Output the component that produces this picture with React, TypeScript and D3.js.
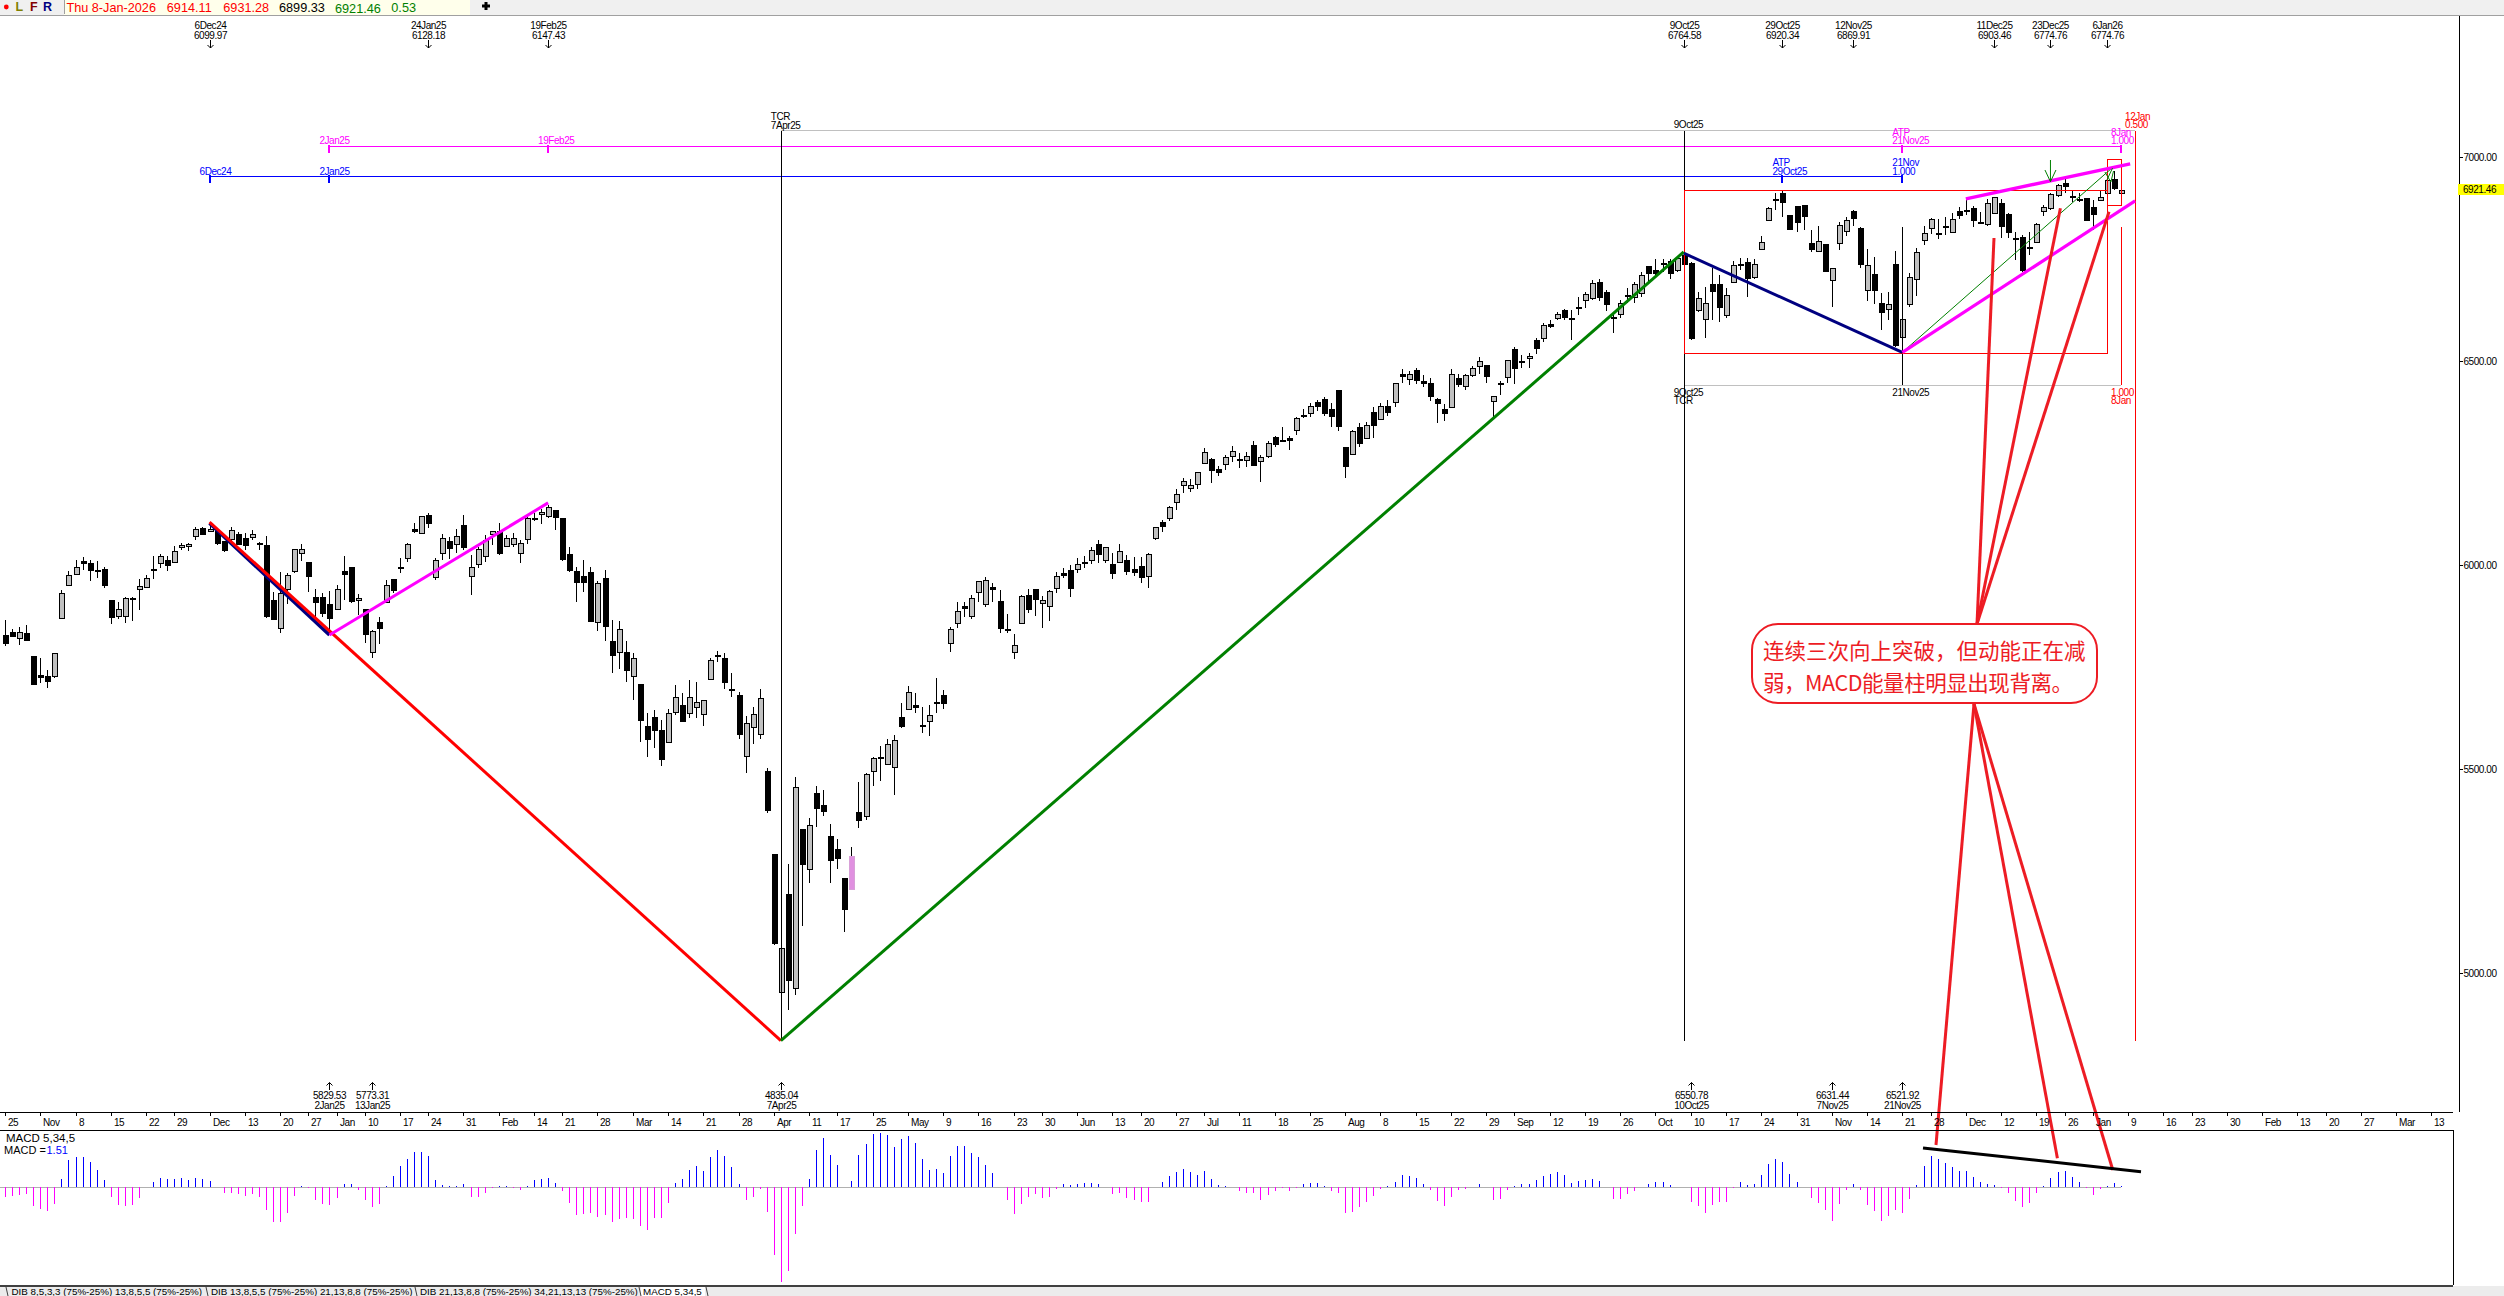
import React, { useEffect, useRef } from "react";
import * as d3 from "d3";

type Bar = [number, number, number, number]; // open high low close

// daily bars, one list per stretch
const barsOct24: Bar[] = [[5829,5866,5802,5810],[5836,5845,5825,5827],[5822,5849,5804,5836],[5833,5854,5815,5817],[5778,5778,5706,5709],[5730,5774,5711,5726],[5729,5743,5700,5717],[5727,5784,5724,5784],[5869,5939,5869,5931],[5950,5986,5950,5975],[5979,6014,5979,5997],[6010,6020,5988,6004],[6005,6013,5961,5987],[5988,6010,5970,5987],[5990,5995,5945,5952],[5915,5915,5857,5874],[5876,5910,5868,5894],[5875,5923,5859,5919],[5920,5923,5863,5919],[5943,5966,5890,5950],[5948,5976,5948,5970],[5992,6023,5966,5989],[6004,6027,5994,6022],[6014,6023,5986,6001],[6006,6047,6006,6034],[6043,6054,6037,6049],[6046,6055,6035,6051],[6072,6093,6062,6088],[6091,6093,6075,6077]];
const barsDec24: Bar[] = [[6085,6100,6081,6090],[6085,6090,6050,6055],[6060,6060,6033,6037],[6063,6093,6052,6086],[6077,6082,6050,6053],[6068,6080,6037,6052],[6068,6086,6062,6076],[6055,6058,6037,6054],[6049,6071,5872,5876],[5915,5934,5868,5868],[5845,5983,5835,5932],[5942,5980,5905,5976],[5986,6041,5982,6041],[6028,6052,6010,6039],[6008,6008,5934,5974],[5922,5942,5874,5910],[5922,5931,5874,5882]];
const barsJan25: Bar[] = [[5905,5936,5830,5871],[5894,5952,5891,5943],[5986,6023,5915,5979],[5996,5996,5908,5912],[5913,5930,5878,5919],[5892,5892,5809,5830],[5787,5841,5773,5838],[5861,5874,5807,5846],[5909,5964,5907,5951],[5966,5966,5931,5940],[5997,6017,5982,5996],[6016,6054,6008,6051],[6089,6103,6078,6084],[6079,6122,6077,6120],[6123,6128,6092,6104],[5972,6018,5964,6014],[6031,6077,6013,6068],[6059,6070,6015,6043],[6053,6090,6031,6073]];
const barsFeb25: Bar[] = [[6098,6123,6037,6043],[5972,6025,5927,5995],[6002,6046,5994,6039],[6023,6074,6009,6063],[6076,6084,6050,6084],[6083,6103,6025,6028],[6049,6074,6047,6068],[6053,6078,6046,6068],[6029,6063,6006,6054],[6063,6119,6052,6115],[6117,6127,6108,6116],[6125,6139,6101,6130],[6122,6147,6115,6144],[6135,6135,6086,6119],[6116,6116,6011,6016],[6027,6045,5983,5987],[5985,5995,5911,5957],[5974,6013,5934,5960],[5983,5995,5861,5863]];
const barsMar25: Bar[] = [[5860,5961,5839,5956],[5970,5988,5815,5852],[5814,5867,5737,5780],[5787,5863,5746,5843],[5787,5814,5715,5742],[5729,5784,5671,5772],[5708,5708,5568,5619],[5606,5637,5531,5574],[5627,5645,5551,5595],[5596,5621,5509,5526],[5568,5647,5568,5639],[5639,5706,5633,5676],[5657,5686,5615,5619],[5637,5718,5626,5676],[5652,5714,5626,5664],[5635,5671,5607,5669],[5723,5773,5722,5769],[5779,5790,5764,5778],[5774,5784,5697,5715],[5698,5735,5676,5697],[5681,5689,5575,5585],[5531,5630,5492,5613],[5602,5652,5562,5635],[5585,5697,5575,5674]];
const barsApr25: Bar[] = [[5496,5504,5394,5400],[5292,5292,5070,5074],[4954,5247,4835,5062],[5194,5267,4910,4983],[4965,5481,4948,5457],[5353,5353,5115,5268],[5256,5381,5221,5363],[5442,5459,5358,5406],[5412,5450,5386,5397],[5336,5367,5221,5276],[5305,5328,5256,5283],[5233,5233,5102,5158],[5208,5310,5208,5288],[5396,5470,5356,5376],[5386,5492,5376,5488],[5494,5529,5460,5527],[5531,5557,5471,5530],[5513,5574,5510,5563],[5504,5584,5437,5571]];
const barsMay25: Bar[] = [[5628,5662,5601,5606],[5648,5704,5647,5689],[5657,5686,5637,5653],[5608,5652,5590,5607],[5617,5657,5581,5632],[5666,5724,5639,5665],[5682,5694,5648,5662],[5810,5848,5787,5845],[5857,5910,5847,5887],[5900,5910,5874,5896],[5874,5926,5869,5919],[5933,5961,5911,5961],[5906,5972,5898,5965],[5947,5956,5911,5942],[5912,5939,5835,5847],[5843,5880,5833,5842],[5787,5831,5771,5804],[5858,5926,5858,5924],[5926,5941,5884,5891],[5941,5943,5876,5916]];
const barsJun25: Bar[] = [[5906,5925,5847,5914],[5899,5939,5864,5936],[5943,5983,5933,5973],[5980,5993,5970,5974],[5988,6001,5923,5943],[5990,6018,5982,6002],[6007,6023,5994,6006],[6014,6046,6003,6038],[6051,6062,6006,6026],[6014,6046,6006,6046],[6002,6029,5967,5979],[6007,6052,6006,6034],[6014,6025,5977,5987],[5991,6021,5975,5984],[5998,6021,5956,5970],[5972,6029,5945,6027],[6065,6095,6063,6093],[6105,6111,6081,6095],[6114,6145,6109,6142],[6154,6188,6135,6174],[6195,6213,6178,6206]];
const barsJul25: Bar[] = [[6191,6211,6180,6198],[6198,6229,6188,6228],[6250,6287,6248,6278],[6260,6262,6202,6232],[6235,6243,6220,6227],[6247,6270,6233,6265],[6269,6292,6253,6281],[6260,6276,6238,6259],[6259,6277,6242,6269],[6296,6305,6244,6247],[6256,6270,6205,6265],[6266,6305,6264,6299],[6314,6317,6289,6297],[6306,6338,6304,6305],[6311,6317,6282,6307],[6331,6363,6319,6360],[6369,6382,6360,6367],[6372,6397,6364,6390],[6400,6405,6379,6390],[6408,6412,6366,6374],[6382,6397,6340,6364],[6430,6430,6330,6342]];
const barsAug25: Bar[] = [[6289,6289,6215,6242],[6274,6332,6273,6330],[6338,6348,6291,6300],[6314,6352,6311,6345],[6375,6389,6313,6342],[6358,6397,6356,6390],[6390,6405,6366,6376],[6399,6448,6389,6446],[6469,6480,6446,6464],[6456,6477,6442,6468],[6478,6484,6444,6453],[6452,6466,6436,6448],[6446,6459,6403,6413],[6408,6409,6348,6399],[6383,6395,6354,6372],[6387,6481,6385,6468],[6458,6468,6438,6443],[6439,6469,6430,6466],[6466,6488,6461,6483],[6488,6510,6469,6501],[6490,6491,6448,6462]];
const barsSep25: Bar[] = [[6404,6416,6360,6416],[6448,6452,6417,6447],[6460,6502,6448,6502],[6530,6534,6444,6484],[6500,6515,6483,6497],[6506,6521,6483,6512],[6552,6556,6518,6533],[6555,6593,6548,6588],[6591,6601,6582,6587],[6604,6621,6601,6615],[6626,6627,6601,6609],[6605,6626,6552,6602],[6632,6658,6613,6629],[6649,6671,6630,6664],[6656,6699,6650,6693],[6694,6702,6649,6658],[6669,6675,6624,6639],[6608,6615,6570,6607],[6617,6650,6605,6644],[6662,6679,6644,6661]];
const barsOct25: Bar[] = [[6658,6694,6644,6689],[6667,6718,6658,6711],[6733,6733,6693,6717],[6723,6751,6707,6716],[6740,6750,6720,6737],[6747,6750,6702,6717],[6725,6756,6720,6754],[6760,6765,6736,6737],[6740,6744,6551,6555],[6624,6671,6622,6654],[6605,6683,6558,6644],[6689,6729,6601,6673],[6689,6711,6597,6632],[6615,6679,6607,6663],[6693,6746,6693,6735],[6738,6752,6724,6737],[6743,6752,6658,6703],[6706,6750,6702,6738],[6774,6807,6774,6792],[6847,6877,6845,6876],[6897,6912,6871,6895],[6912,6920,6854,6891],[6859,6859,6823,6825]];
const barsNov25: Bar[] = [[6881,6881,6816,6842],[6882,6882,6822,6854],[6789,6822,6769,6774],[6771,6832,6769,6796],[6787,6787,6720,6722],[6698,6728,6634,6728],[6788,6841,6774,6833],[6818,6854,6807,6846],[6868,6870,6832,6852],[6827,6829,6728,6739],[6674,6775,6648,6735],[6714,6755,6641,6676],[6642,6668,6577,6619],[6629,6670,6601,6641],[6738,6770,6536,6540],[6558,6695,6522,6603],[6640,6716,6634,6706],[6701,6777,6660,6767],[6796,6832,6785,6814]];
const barsDec25: Bar[] = [[6826,6851,6812,6848],[6814,6848,6800,6813],[6831,6854,6810,6830],[6818,6863,6814,6850],[6868,6879,6848,6859],[6871,6898,6859,6870],[6876,6881,6830,6847],[6841,6867,6840,6840],[6836,6899,6832,6887],[6863,6903,6861,6902],[6887,6899,6803,6830],[6861,6863,6803,6818],[6803,6818,6748,6802],[6804,6810,6720,6722],[6780,6816,6760,6777],[6793,6838,6791,6836],[6867,6883,6856,6878],[6874,6912,6872,6909],[6906,6934,6903,6931],[6937,6948,6912,6930],[6906,6920,6891,6905],[6899,6912,6891,6898],[6900,6900,6846,6847]];
const barsJan26: Bar[] = [[6877,6895,6823,6859],[6894,6920,6892,6902],[6911,6957,6907,6944],[6946,6966,6920,6923],[6914,6931,6899,6921]];
const bars = [...barsOct24,...barsDec24,...barsJan25,...barsFeb25,...barsMar25,...barsApr25,...barsMay25,...barsJun25,...barsJul25,...barsAug25,...barsSep25,...barsOct25,...barsNov25,...barsDec25,...barsJan26];

const macd2024 = [-14,-12.5,-11,-10,-28,-32.5,-35,-25,12.5,41,46,46,38,26,11,-14,-26.5,-27.5,-26.5,-16,0.5,8.5,14,12.5,12.5,14,11,14,12.5,10,1,-9,-8,-10,-12.5,-10,-14,-34,-51.5,-51.5,-38,-13,1.5,-1,-19,-25,-26];
const macdQ1 = [-15.5,5,5,-3.5,-18.5,-30,-25,1.5,17.5,32.5,42.5,53.5,53.5,47.5,11,4,1.5,2.5,5,-15,-14,-8.5,-1,1.5,2,-1.5,-4,2.5,11.5,13,14,7,-6,-23,-41,-40.5,-39,-45,-41.5,-51.5,-48,-46.5,-47,-57.5,-64,-46.5,-46,-24,6.5,12.5,26,32,25,45,56,47.5,30,5,-19,-14,-2,-36.5];
const macdQ2 = [-101.5,-141.5,-125,-70,-27.5,12.5,56,74,48.5,33.5,0.5,10,48.5,65,80,81.5,78.5,60,72.5,77.5,66.5,42.5,26,27.5,22,47.5,62.5,62.5,51.5,46,34,22,0,-19,-40,-25,-14,-10,-16,-14.5,-2.5,5,3,5.5,6.5,7,5.5,0,-10,-8.5,-16,-19,-22,-22,0.5,8.5,17.5,23.5,27.5,23.5,19];
const macdQ3 = [25,13,4,1.5,1,-5,-9,-8,-19,-11.5,-5,-1.5,-5,-1,5.5,7,6.5,2,-5,-8.5,-38.5,-37.5,-29,-22,-13,-2.5,2.5,8.5,19,17.5,14.5,5.5,-3.5,-20,-28,-14.5,-4,-2.5,1,5,0.5,-19,-17.5,-4.5,1.5,4.5,4.5,11.5,17.5,20.5,23.5,19,7,10,11.5,13,10,0,-17.5,-17.5,-10,-5,0];
const macdQ4 = [5.5,8.5,8.5,4,1,0.5,-22,-28,-38,-26,-22,-22,-1.5,8.5,3.5,5.5,19,35,42.5,38,20,8.5,0.5,-15.5,-23.5,-33.5,-50,-25,-4,4.5,-4,-26,-35,-50,-43.5,-34,-38,-17,3,32,46.5,42.5,36.5,30,25,25,15.5,8,5,3.5,-1.5,-9,-21,-29,-24,-8.5,1.5,14,23.5,24.5,15.5,8.5,-1.5,-11,-3,1.5,6,1.51];
const macdValues = [...macd2024,...macdQ1,...macdQ2,...macdQ3,...macdQ4];

const priceTicks = [7000, 6500, 6000, 5500, 5000];
const weekIdx = [0,5,10,15,20,24,29,34,39,43,47,51,56,60,65,70,75,79,84,89,94,99,104,109,114,118,123,128,133,138,143,147,152,157,161,166,170,175,180,185,190,195,200,205,210,214,219,224,229,234,239,244,249,254,259,264,269,273,278,283,288,292,296,301,306,310,315,320,325,329,334,339,344];
const weekLabels = ["25","Nov","8","15","22","29","Dec","13","20","27","Jan","10","17","24","31","Feb","14","21","28","Mar","14","21","28","Apr","11","17","25","May","9","16","23","30","Jun","13","20","27","Jul","11","18","25","Aug","8","15","22","29","Sep","12","19","26","Oct","10","17","24","31","Nov","14","21","28","Dec","12","19","26","Jan","9","16","23","30","Feb","13","20","27","Mar","13"];

const topIdx = [29, 60, 77, 238, 252, 262, 282, 290, 298];
const topDates = ["6Dec24","24Jan25","19Feb25","9Oct25","29Oct25","12Nov25","11Dec25","23Dec25","6Jan26"];
const topVals = ["6099.97","6128.18","6147.43","6764.58","6920.34","6869.91","6903.46","6774.76","6774.76"];
const lowIdx = [46, 52, 110, 239, 259, 269];
const lowDates = ["2Jan25","13Jan25","7Apr25","10Oct25","7Nov25","21Nov25"];
const lowVals = ["5829.53","5773.31","4835.04","6550.78","6631.44","6521.92"];

const C = { red: "#ff0000", paint: "#ed1c24", blue: "#0000ff", mag: "#ff00ff", navy: "#000080", green: "#008000" };
const FONT = "'Liberation Sans', Arial, sans-serif";

export default function App() {
    const svgRef = useRef<SVGSVGElement>(null);

    useEffect(() => {
        const svg = d3.select(svgRef.current);
        svg.selectAll("*").remove();

        const x = d3.scaleLinear().domain([0, 300]).range([5, 2121]);
        const y = d3.scaleLinear().domain([5000, 7000]).range([973.3, 157.3]);
        const ym = d3.scaleLinear().domain([0, -100]).range([1187.3, 1254]);
        const px = (i: number) => Math.round(x(i)) + 0.5;

        const text = (g: any, tx: number, ty: number, s: string, color = "#000", anchor = "start", size = 10) =>
            g.append("text").attr("x", tx).attr("y", ty).attr("dy", "0.36em").attr("fill", color)
                .attr("text-anchor", anchor).attr("font-size", size).attr("letter-spacing", size == 10 ? "-0.45px" : null).text(s);
        const seg = (g: any, x1: number, y1: number, x2: number, y2: number, color: string, w = 1, crisp = true) =>
            g.append("line").attr("x1", x1).attr("y1", y1).attr("x2", x2).attr("y2", y2).attr("stroke", color)
                .attr("stroke-width", w).attr("shape-rendering", crisp ? "crispEdges" : null);

        const root = svg.append("g").attr("font-family", FONT);

        // candles
        const candle = root.append("g").selectAll("g").data(bars).join("g");
        candle.append("line").attr("x1", (_, i) => px(i)).attr("x2", (_, i) => px(i))
            .attr("y1", (d) => y(d[1])).attr("y2", (d) => y(d[2])).attr("stroke", "#000").attr("shape-rendering", "crispEdges");
        candle.append("rect").attr("x", (_, i) => px(i) - 2.5).attr("width", 5)
            .attr("y", (d) => Math.round(y(Math.max(d[0], d[3]))) + 0.5)
            .attr("height", (d) => Math.max(1, Math.round(Math.abs(y(d[0]) - y(d[3])))))
            .attr("fill", (d, i) => (i == 120 ? "#e090e0" : d[3] < d[0] ? "#000" : "#c0c0c0"))
            .attr("stroke", (_, i) => (i == 120 ? "#d8a0d8" : "#000")).attr("shape-rendering", "crispEdges");

        // grey time span lines
        seg(root, x(110), 130.5, x(302), 130.5, "#c0c0c0");
        seg(root, x(238), 385.5, x(300), 385.5, "#c0c0c0");

        // horizontal measure lines with their ticks
        const blueLevel = 6953, pinkLevel = 7026.6;
        seg(root, x(29), y(blueLevel), x(269), y(blueLevel), C.blue);
        [29, 46, 252, 269].forEach((i) => seg(root, x(i), y(blueLevel) - 1, x(i), y(blueLevel) + 7, C.blue, 2));
        seg(root, x(46), y(pinkLevel), x(300), y(pinkLevel), C.mag);
        [46, 77, 269, 300].forEach((i) => seg(root, x(i), y(pinkLevel) - 1, x(i), y(pinkLevel) + 7, C.mag, 2));
        const bl = (i: number, s: string, yy: number, c: string) => text(root, x(i) - 10, yy, s, c);
        bl(29, "6Dec24", 171, C.blue); bl(46, "2Jan25", 171, C.blue);
        bl(252, "ATP", 162.7, C.blue); bl(252, "29Oct25", 171, C.blue);
        bl(269, "21Nov", 162.7, C.blue); bl(269, "1.000", 171, C.blue);
        bl(46, "2Jan25", 140.7, C.mag); bl(77, "19Feb25", 140.7, C.mag);
        bl(269, "ATP", 132.7, C.mag); bl(269, "21Nov25", 140.7, C.mag);
        bl(300, "8Jan", 132.7, C.mag); bl(300, "1.000", 140.7, C.mag);
        bl(110, "TCR", 116.7, "#000"); bl(110, "7Apr25", 125, "#000");
        bl(238, "9Oct25", 124.5, "#000"); bl(238, "9Oct25", 392.7, "#000"); bl(238, "TCR", 400.7, "#000");
        bl(269, "21Nov25", 392.7, "#000");
        bl(300, "1.000", 392.7, C.red); bl(300, "8Jan", 400.7, C.red);
        text(root, x(302) - 10, 116.7, "12Jan", C.red); text(root, x(302) - 10, 124.5, "0.500", C.red);

        // vertical time lines
        seg(root, px(110), 130.5, px(110), y(4835), "#000");
        seg(root, px(238), 130.5, px(238), y(4835), "#000");
        seg(root, px(269), 226.7, px(269), 385, "#000");
        seg(root, px(300), 226.7, px(300), 385, C.red);
        seg(root, px(302), 130.5, px(302), y(4835), C.red);

        // red boxes
        const box = (i0: number, i1: number, p0: number, p1: number) =>
            root.append("rect").attr("x", px(i0)).attr("y", Math.round(y(p0)) + 0.5).attr("width", px(i1) - px(i0))
                .attr("height", Math.round(y(p1) - y(p0))).attr("fill", "none").attr("stroke", C.red).attr("shape-rendering", "crispEdges");
        box(238, 298, 6920.34, 6521.92);
        box(298, 300, 6995, 6882);

        // swing lines
        const swing = d3.line<[number, number]>().x((d) => x(d[0])).y((d) => y(d[1]));
        const trend = (pts: [number, number][], color: string, w: number) =>
            root.append("path").attr("d", swing(pts)).attr("fill", "none").attr("stroke", color).attr("stroke-width", w);
        trend([[238, 6765], [269, 6522]], C.navy, 3);
        trend([[29, 6103], [46, 5829]], C.navy, 3.5);
        trend([[29, 6106], [110, 4835]], C.red, 3);
        trend([[46, 5829], [77, 6153]], C.mag, 3);
        trend([[110, 4835], [238, 6768]], C.green, 3);
        trend([[269, 6522], [298.8, 6975]], C.green, 1);
        trend([[269, 6522], [302, 6893]], C.mag, 3.2);
        trend([[278, 6898], [301.3, 6984]], C.mag, 3.4);

        // green arrows
        const ga = root.append("g").attr("stroke", C.green).attr("fill", "none");
        ga.append("path").attr("d", `M${x(290)},160V181.7M${x(290) - 5.5},170L${x(290)},181.7L${x(290) + 5.5},170`);
        ga.append("path").attr("d", `M${x(298)},180L${x(298.8)},168M${x(298) - 2},172L${x(298) + 4},182L${x(298.8) + 1},171`);

        // callout lines
        const callout = root.append("g").attr("stroke", C.paint).attr("stroke-width", 3);
        [[1977, 624, 1994, 238], [1977, 624, 2060.4, 208.3], [1977, 624, 2109, 211.7],
         [1974, 704, 1936, 1145], [1974, 704, 2057.4, 1158.3], [1974, 704, 2112.8, 1170]].forEach((l) =>
            callout.append("line").attr("x1", l[0]).attr("y1", l[1]).attr("x2", l[2]).attr("y2", l[3]));
        root.append("rect").attr("x", 1752).attr("y", 624).attr("width", 345).attr("height", 79).attr("rx", 26)
            .attr("fill", "#fff").attr("stroke", C.paint).attr("stroke-width", 2);
        const note = root.append("g").attr("font-family", "'Noto Sans CJK SC', sans-serif").attr("font-size", 21.5).attr("fill", C.paint);
        note.append("text").attr("x", 1763).attr("y", 659).text("连续三次向上突破，但动能正在减");
        note.append("text").attr("x", 1763).attr("y", 691).attr("textLength", 310).text("弱，MACD能量柱明显出现背离。");

        // high / low marks
        topIdx.forEach((i, k) => {
            const cx = px(i);
            text(root, cx, 25.7, topDates[k], "#000", "middle");
            text(root, cx, 35.7, topVals[k], "#000", "middle");
            root.append("path").attr("d", `M${cx},40V48M${cx - 3},45L${cx},48L${cx + 3},45`).attr("fill", "none").attr("stroke", "#000");
        });
        lowIdx.forEach((i, k) => {
            const cx = px(i);
            text(root, cx, 1095.7, lowVals[k], "#000", "middle");
            text(root, cx, 1105.7, lowDates[k], "#000", "middle");
            root.append("path").attr("d", `M${cx},1090V1082.5M${cx - 3},1085.5L${cx},1082.5L${cx + 3},1085.5`).attr("fill", "none").attr("stroke", "#000");
        });

        // price axis
        seg(root, 2459.5, 16, 2459.5, 1112, "#000", 1);
        priceTicks.forEach((p) => {
            seg(root, 2459.5, y(p), 2463, y(p), "#000");
            text(root, 2463.5, y(p), p.toFixed(2));
        });
        root.append("rect").attr("x", 2458).attr("y", 184).attr("width", 46).attr("height", 11).attr("fill", "#ffff00");
        text(root, 2463, 189.5, "6921.46");

        // date axis
        seg(root, 0, 1112.5, 2453, 1112.5, "#000", 1);
        seg(root, 0, 1130.5, 2453, 1130.5, "#000", 1);
        weekIdx.forEach((i, k) => {
            seg(root, px(i), 1112, px(i), 1116, "#000");
            text(root, px(i) + 2.5, 1122, weekLabels[k]);
        });

        // macd pane
        seg(root, 2453.5, 1130, 2453.5, 1285, "#000");
        seg(root, 0, ym(0), x(300), ym(0), "#b0b0b0");
        root.append("g").selectAll("line").data(macdValues).join("line")
            .attr("x1", (_, i) => px(i)).attr("x2", (_, i) => px(i))
            .attr("y1", ym(0)).attr("y2", (d) => ym(d))
            .attr("stroke", (d) => (d >= 0 ? C.blue : C.mag)).attr("shape-rendering", "crispEdges");
        text(root, 6, 1138, "MACD 5,34,5", "#000", "start", 11.5);
        text(root, 4, 1150, "MACD =", "#000", "start", 11);
        text(root, 46.5, 1150, "1.51", C.blue, "start", 11);
        seg(root, 1923, 1148, 2141, 1171.7, "#000", 3, false);

        // tab strip
        root.append("rect").attr("x", 0).attr("y", 1286).attr("width", 2504).attr("height", 10).attr("fill", "#ececec");
        root.append("rect").attr("x", 641).attr("y", 1286).attr("width", 64).attr("height", 10).attr("fill", "#fff");
        seg(root, 0, 1285.5, 2453, 1285.5, "#404040", 2);
        [["DIB 8,5,3,3 (75%-25%) 13,8,5,5 (75%-25%)", 11.5], ["DIB 13,8,5,5 (75%-25%) 21,13,8,8 (75%-25%)", 211],
         ["DIB 21,13,8,8 (75%-25%) 34,21,13,13 (75%-25%)", 420], ["MACD 5,34,5", 643]].forEach((t) =>
            text(root, t[1] as number, 1291, t[0] as string, "#000", "start", 9.8));
        [6, 206, 415, 639, 706].forEach((tx) => seg(root, tx, 1287, tx + 2, 1296, "#404040", 1, false));

        // top toolbar
        const bar = root.append("g");
        bar.append("rect").attr("width", 2504).attr("height", 15).attr("fill", "#f0f0f0");
        bar.append("rect").attr("x", 64).attr("width", 406).attr("height", 15).attr("fill", "#ffffeb");
        seg(bar, 0, 15.5, 2459, 15.5, "#a0a0a0", 1.5);
        seg(bar, 2459, 15.5, 2504, 15.5, "#a0a0a0", 1.5);
        seg(bar, 64, 0, 64, 14, "#a0a0a0");
        bar.append("circle").attr("cx", 6.3).attr("cy", 7).attr("r", 2.4).attr("fill", C.red);
        ["L", "F", "R"].forEach((s, k) =>
            text(bar, [15.5, 30, 43][k], 6.5, s, ["#808000", "#800000", "#000080"][k], "start", 12.5).attr("font-weight", "bold"));
        [["Thu 8-Jan-2026", 66.4, C.red, 7.3], ["6914.11", 166.8, C.red, 7.3], ["6931.28", 223.3, C.red, 7.3],
         ["6899.33", 279, "#000", 7.3], ["6921.46", 335, C.green, 8.5], ["0.53", 391.3, C.green, 7.3]].forEach((t) =>
            text(bar, t[1] as number, t[3] as number, t[0] as string, t[2] as string, "start", 12.7));
        bar.append("path").attr("d", "M486,2V10M482,6H490").attr("stroke", "#000").attr("stroke-width", 3);
    }, []);

    return (
        <svg ref={svgRef} width={2504} height={1296} style={{ position: "fixed", left: 0, top: 0, background: "#fff" }} />
    );
}
